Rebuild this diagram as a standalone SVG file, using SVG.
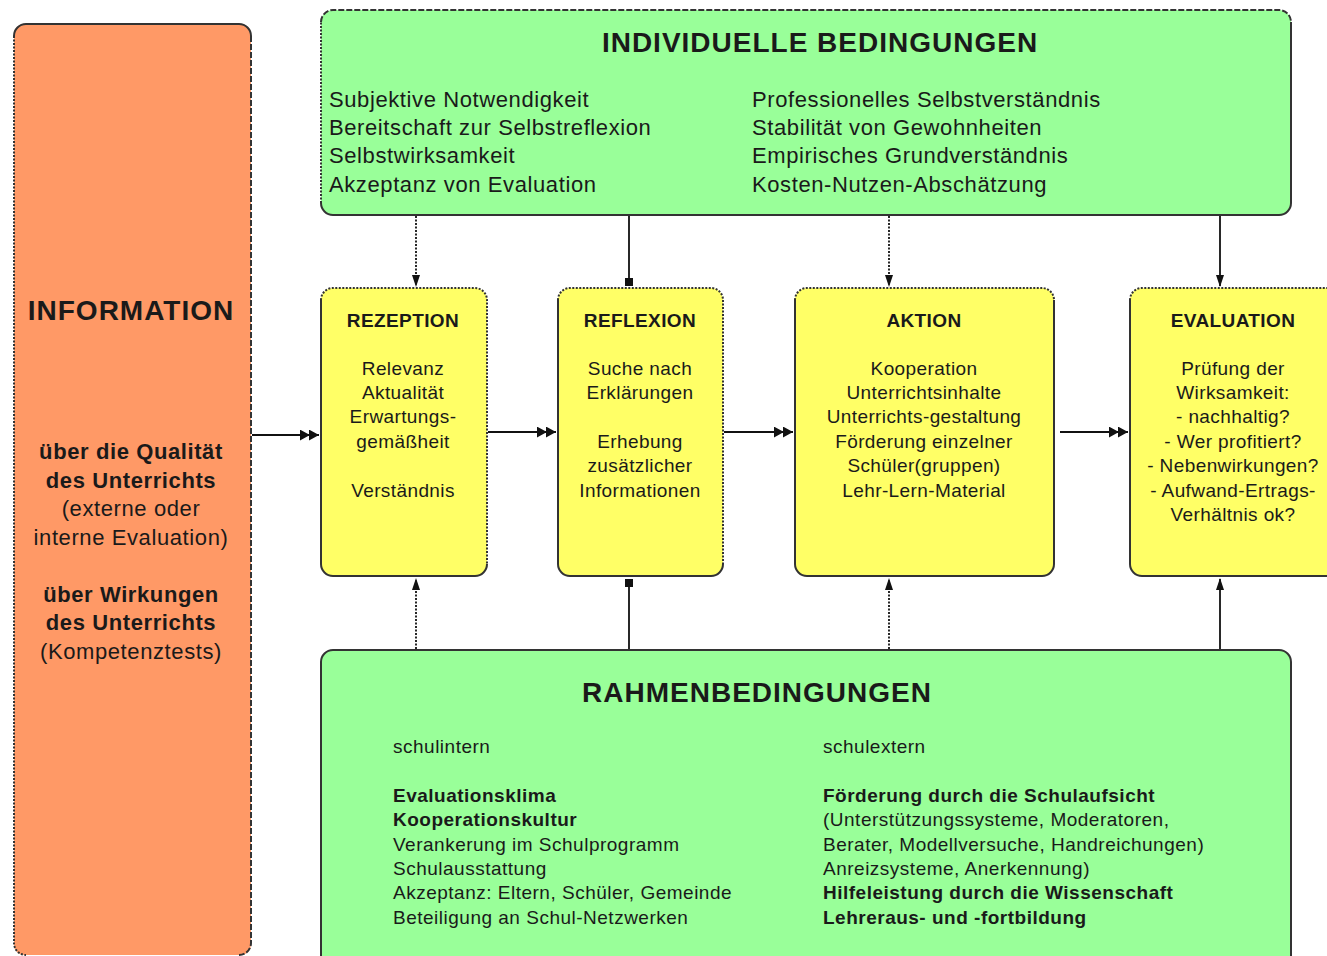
<svg xmlns="http://www.w3.org/2000/svg" width="1327" height="956" viewBox="0 0 1327 956">
<style>
text{font-family:"Liberation Sans",Arial,sans-serif;fill:#1a1a1a}
.t1{font-size:28px;font-weight:bold;letter-spacing:1px}
.tb{font-size:22px;letter-spacing:0.6px}
.tbb{font-size:22px;letter-spacing:0.6px;font-weight:bold}
.yt{font-size:19px;font-weight:bold;letter-spacing:0.4px;text-anchor:middle}
.yb{font-size:19px;letter-spacing:0.4px;text-anchor:middle}
.gb{font-size:19px;letter-spacing:0.5px}
.gbb{font-size:19px;letter-spacing:0.5px;font-weight:bold}
.mid{text-anchor:middle}
.solid{fill:none;stroke:#333;stroke-width:2}
.dot{fill:none;stroke:#333;stroke-width:2;stroke-dasharray:2 1.5}
.dash{fill:none;stroke:#333;stroke-width:2;stroke-dasharray:6 2}
.con{fill:none;stroke:#111;stroke-width:1.8}
.cdot{fill:none;stroke:#111;stroke-width:1.8;stroke-dasharray:2 1.5}
</style>
<defs>
<marker id="arr2" viewBox="0 0 22 12" refX="21" refY="6" markerWidth="20" markerHeight="11" orient="auto" markerUnits="userSpaceOnUse">
<path d="M0,0 L11,6 L0,12 z M10,0 L21,6 L10,12 z" fill="#111"/>
</marker>
<marker id="sq" viewBox="0 0 10 10" refX="10" refY="5" markerWidth="9" markerHeight="8" orient="auto" markerUnits="userSpaceOnUse">
<rect x="0" y="0" width="10" height="10" fill="#111"/>
</marker>
<marker id="arrv" viewBox="0 0 12 10" refX="11" refY="5" markerWidth="13" markerHeight="10" orient="auto" markerUnits="userSpaceOnUse">
<path d="M0,1 L12,5 L0,9 z" fill="#111"/>
</marker>
</defs>

<g id="information">
<rect x="14" y="24" width="237" height="931" rx="10" fill="#FF9966"/>
<path class="solid" d="M14,36 A12,12 0 0 1 26,24 L239,24 A12,12 0 0 1 251,36"/>
<path class="dot" d="M14,36 L14,943 A12,12 0 0 0 26,955"/>
<path class="dash" d="M251,36 L251,943 A12,12 0 0 1 239,955"/>
<text class="t1 mid" x="131" y="320">INFORMATION</text>
<text class="tbb mid" x="131" y="459">über die Qualität</text>
<text class="tbb mid" x="131" y="488">des Unterrichts</text>
<text class="tb mid" x="131" y="516">(externe oder</text>
<text class="tb mid" x="131" y="545">interne Evaluation)</text>
<text class="tbb mid" x="131" y="602">über Wirkungen</text>
<text class="tbb mid" x="131" y="630">des Unterrichts</text>
<text class="tb mid" x="131" y="659">(Kompetenztests)</text>
</g>

<g id="individuelle">
<rect x="321" y="10" width="970" height="205" rx="12" fill="#99FF99"/>
<path class="dash" d="M321,22 A12,12 0 0 1 333,10 L1279,10 A12,12 0 0 1 1291,22"/>
<path class="solid" d="M1291,22 L1291,203 A12,12 0 0 1 1279,215 L333,215 A12,12 0 0 1 321,203"/>
<path class="dot" d="M321,203 L321,22"/>
<text class="t1 mid" x="820" y="52">INDIVIDUELLE BEDINGUNGEN</text>
<text class="tb" x="329" y="107">Subjektive Notwendigkeit</text>
<text class="tb" x="329" y="135">Bereitschaft zur Selbstreflexion</text>
<text class="tb" x="329" y="163">Selbstwirksamkeit</text>
<text class="tb" x="329" y="192">Akzeptanz von Evaluation</text>
<text class="tb" x="752" y="107">Professionelles Selbstverständnis</text>
<text class="tb" x="752" y="135">Stabilität von Gewohnheiten</text>
<text class="tb" x="752" y="163">Empirisches Grundverständnis</text>
<text class="tb" x="752" y="192">Kosten-Nutzen-Abschätzung</text>
</g>

<g id="rezeption">
<rect x="321" y="288" width="166" height="288" rx="12" fill="#FFFF66"/>
<path class="dot" d="M321,300 A12,12 0 0 1 333,288 L475,288 A12,12 0 0 1 487,300 L487,564"/>
<path class="solid" d="M487,564 A12,12 0 0 1 475,576 L333,576 A12,12 0 0 1 321,564 L321,300"/>
<text class="yt" x="403" y="327">REZEPTION</text>
<text class="yb" x="403" y="375">Relevanz</text>
<text class="yb" x="403" y="399">Aktualität</text>
<text class="yb" x="403" y="423">Erwartungs-</text>
<text class="yb" x="403" y="448">gemäßheit</text>
<text class="yb" x="403" y="497">Verständnis</text>
</g>

<g id="reflexion">
<rect x="558" y="288" width="165" height="288" rx="12" fill="#FFFF66"/>
<path class="dot" d="M558,300 A12,12 0 0 1 570,288 L711,288 A12,12 0 0 1 723,300 L723,564"/>
<path class="solid" d="M723,564 A12,12 0 0 1 711,576 L570,576 A12,12 0 0 1 558,564 L558,300"/>
<text class="yt" x="640" y="327">REFLEXION</text>
<text class="yb" x="640" y="375">Suche nach</text>
<text class="yb" x="640" y="399">Erklärungen</text>
<text class="yb" x="640" y="448">Erhebung</text>
<text class="yb" x="640" y="472">zusätzlicher</text>
<text class="yb" x="640" y="497">Informationen</text>
</g>

<g id="aktion">
<rect x="795" y="288" width="259" height="288" rx="12" fill="#FFFF66"/>
<path class="dot" d="M795,300 A12,12 0 0 1 807,288 L1042,288 A12,12 0 0 1 1054,300"/>
<path class="solid" d="M1054,300 L1054,564 A12,12 0 0 1 1042,576 L807,576 A12,12 0 0 1 795,564 L795,300"/>
<text class="yt" x="924" y="327">AKTION</text>
<text class="yb" x="924" y="375">Kooperation</text>
<text class="yb" x="924" y="399">Unterrichtsinhalte</text>
<text class="yb" x="924" y="423">Unterrichts-gestaltung</text>
<text class="yb" x="924" y="448">Förderung einzelner</text>
<text class="yb" x="924" y="472">Schüler(gruppen)</text>
<text class="yb" x="924" y="497">Lehr-Lern-Material</text>
</g>

<g id="evaluation">
<rect x="1130" y="288" width="210" height="288" rx="12" fill="#FFFF66"/>
<path class="dot" d="M1130,300 A12,12 0 0 1 1142,288 L1340,288"/>
<path class="solid" d="M1340,576 L1142,576 A12,12 0 0 1 1130,564 L1130,300"/>
<text class="yt" x="1233" y="327">EVALUATION</text>
<text class="yb" x="1233" y="375">Prüfung der</text>
<text class="yb" x="1233" y="399">Wirksamkeit:</text>
<text class="yb" x="1233" y="423">- nachhaltig?</text>
<text class="yb" x="1233" y="448">- Wer profitiert?</text>
<text class="yb" x="1233" y="472">- Nebenwirkungen?</text>
<text class="yb" x="1233" y="497">- Aufwand-Ertrags-</text>
<text class="yb" x="1233" y="521">Verhältnis ok?</text>
</g>

<g id="rahmen">
<rect x="321" y="650" width="970" height="320" rx="12" fill="#99FF99"/>
<path class="solid" d="M321,970 L321,662 A12,12 0 0 1 333,650 L1279,650 A12,12 0 0 1 1291,662 L1291,970"/>
<text class="t1 mid" x="757" y="702">RAHMENBEDINGUNGEN</text>
<text class="gb" x="393" y="753">schulintern</text>
<text class="gbb" x="393" y="802">Evaluationsklima</text>
<text class="gbb" x="393" y="826">Kooperationskultur</text>
<text class="gb" x="393" y="851">Verankerung im Schulprogramm</text>
<text class="gb" x="393" y="875">Schulausstattung</text>
<text class="gb" x="393" y="899">Akzeptanz: Eltern, Schüler, Gemeinde</text>
<text class="gb" x="393" y="924">Beteiligung an Schul-Netzwerken</text>
<text class="gb" x="823" y="753">schulextern</text>
<text class="gbb" x="823" y="802">Förderung durch die Schulaufsicht</text>
<text class="gb" x="823" y="826">(Unterstützungssysteme, Moderatoren,</text>
<text class="gb" x="823" y="851">Berater, Modellversuche, Handreichungen)</text>
<text class="gb" x="823" y="875">Anreizsysteme, Anerkennung)</text>
<text class="gbb" x="823" y="899">Hilfeleistung durch die Wissenschaft</text>
<text class="gbb" x="823" y="924">Lehreraus- und -fortbildung</text>
</g>

<g id="connectors">
<path class="cdot" d="M416,216 L416,286" marker-end="url(#arrv)"/>
<path class="con" d="M629,216 L629,286" marker-end="url(#sq)"/>
<path class="cdot" d="M889,216 L889,286" marker-end="url(#arrv)"/>
<path class="con" d="M1220,216 L1220,286" marker-end="url(#arrv)"/>
<path class="cdot" d="M416,649 L416,579" marker-end="url(#arrv)"/>
<path class="con" d="M629,649 L629,579" marker-end="url(#sq)"/>
<path class="cdot" d="M889,649 L889,579" marker-end="url(#arrv)"/>
<path class="con" d="M1220,649 L1220,579" marker-end="url(#arrv)"/>
<path class="con" d="M252,435 L319,435" marker-end="url(#arr2)"/>
<path class="con" d="M488,432 L556,432" marker-end="url(#arr2)"/>
<path class="con" d="M724,432 L793,432" marker-end="url(#arr2)"/>
<path class="con" d="M1060,432 L1128,432" marker-end="url(#arr2)"/>
</g>
</svg>
